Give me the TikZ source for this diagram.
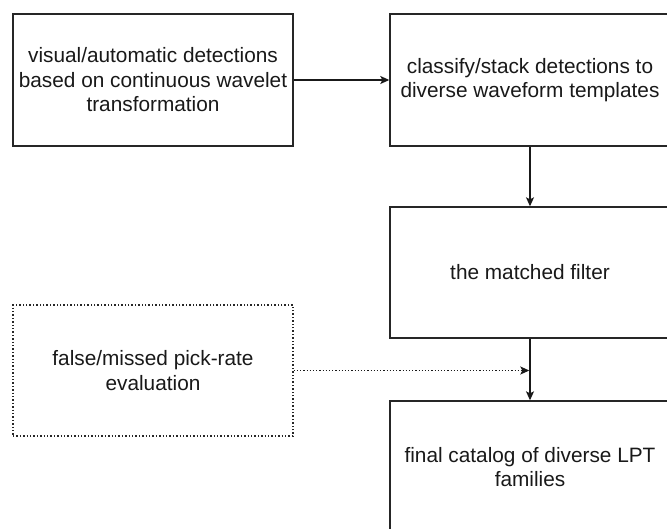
\documentclass[tikz,border=0pt]{standalone}
\usepackage{fontspec}
\setmainfont{Liberation Sans}
\usetikzlibrary{arrows.meta}
\begin{document}
\begin{tikzpicture}[x=1pt,y=1pt,
  box/.style={draw=black!85, line width=1.4pt, minimum width=280pt, minimum height=132pt,
    align=center, inner sep=0pt, font=\fontsize{20.8}{24.5}\selectfont, text=black!90},
  dotbox/.style={box, dotted, line width=1.4pt},
  conn/.style={line width=1.2pt, draw=black!90, -{Stealth[length=9pt,width=8pt,inset=2pt]}},
  dotconn/.style={conn, dotted}]
\clip (0,0) rectangle (667,-528);
\fill[white] (0,0) rectangle (667,-528);
\node[box] (b1) at (153,-80) {visual/automatic detections\\based on continuous wavelet\\transformation};
\node[box] (b2) at (530,-80) {classify/stack detections to\\diverse waveform templates};
\node[box, minimum height=131pt] (b3) at (530,-272.5) {the matched filter};
\node[dotbox, minimum height=131pt] (b4) at (153,-370.5) {false/missed pick-rate\\evaluation};
\node[box] (b5) at (530,-467) {final catalog of diverse LPT\\families};
\coordinate (m) at (b3.south |- b4.east);
\draw[conn] (b1.east) -- (b2.west);
\draw[conn] (b2.south) -- (b3.north);
\draw[conn] (b3.south) -- (b5.north);
\draw[dotconn] (b4.east) -- ([xshift=-0.7pt]m);
\end{tikzpicture}
\end{document}
